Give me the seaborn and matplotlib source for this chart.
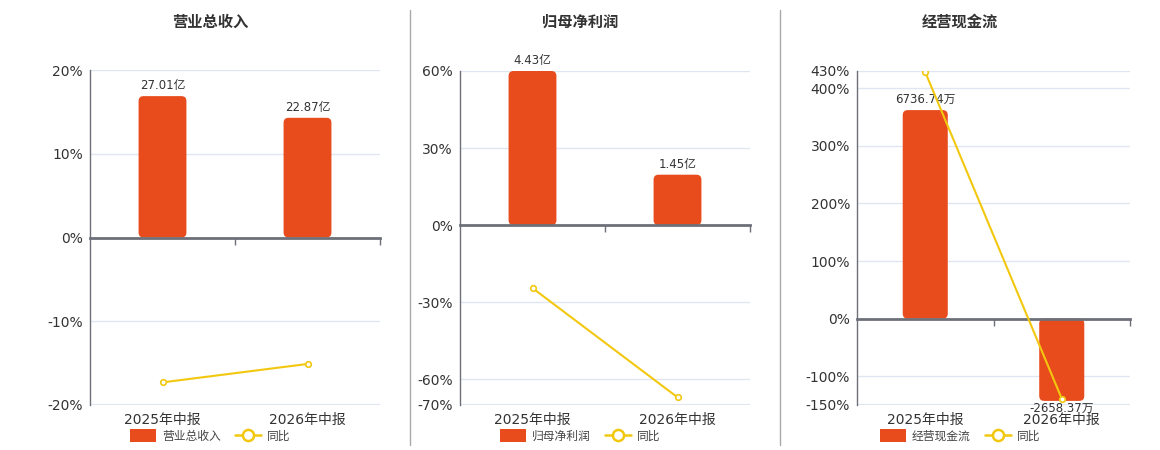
'''
Three small bar + YoY line charts (revenue, net profit, operating cash flow).

Saves the figure to out.png.
'''
import matplotlib
matplotlib.use('agg')

import matplotlib.pyplot as plt
from matplotlib.patches import FancyBboxPatch, Patch
from matplotlib.lines import Line2D

import seaborn as sns

# Data
periods = ['2025年中报', '2026年中报']

revenue = [27.01, 22.87]          # 亿
revenue_yoy = [-17.3, -15.1]      # %
profit = [4.43, 1.45]             # 亿
profit_yoy = [-24.5, -67.0]       # %
cashflow = [6736.74, -2658.37]    # 万
cashflow_yoy = [428.0, -139.0]    # %

titles = ['营业总收入', '归母净利润', '经营现金流']
units = ['亿', '亿', '万']
yticks = [
    [-20, -10, 0, 10, 20],
    [-70, -60, -30, 0, 30, 60],
    [-150, -100, 0, 100, 200, 300, 400, 430],
]
bar_max = [32, 4.43, 8000]

BAR = '#E84B1C'
LINE = '#F2C80F'
GRID = '#E0E6F1'
AXIS = '#6E7079'
TEXT = '#333333'

sns.set_style('white')
plt.rcParams['font.family'] = ['DejaVu Sans', 'Noto Sans CJK SC']

W, H = 1160, 450
fig = plt.figure(figsize=(W / 100, H / 100), dpi=100)

# pixel boxes of the plot areas: left, right, top, bottom
boxes = [(90, 380, 70, 405), (460, 750, 71, 405), (857, 1130, 71, 405)]
centers = [210, 580, 960]

bars_all = [revenue, profit, cashflow]
yoy_all = [revenue_yoy, profit_yoy, cashflow_yoy]


def round_bars(ax, radius_px, width_px, height_px):
    x0, x1 = ax.get_xlim()
    y0, y1 = ax.get_ylim()
    xu = (x1 - x0) / width_px
    yu = (y1 - y0) / height_px
    for p in list(ax.patches):
        x, w = p.get_x(), p.get_width()
        ylo = min(p.get_y(), p.get_y() + p.get_height())
        h = abs(p.get_height())
        rb = FancyBboxPatch((x, ylo), w, h,
                            boxstyle=f'round,pad=0,rounding_size={radius_px * xu}',
                            mutation_aspect=yu / xu,
                            facecolor=p.get_facecolor(), edgecolor='none', zorder=2)
        p.remove()
        ax.add_patch(rb)


for i in range(3):
    L, R, T, B = boxes[i]
    pos = [L / W, 1 - B / H, (R - L) / W, (B - T) / H]
    lo, hi = yticks[i][0], yticks[i][-1]

    # grid / tick axis
    ax = fig.add_axes(pos)
    ax.set_xlim(-0.5, 1.5)
    ax.set_ylim(lo, hi)
    ax.set_yticks(yticks[i])
    ax.set_yticklabels([f'{t}%' for t in yticks[i]])
    ax.set_xticks([0, 1])
    ax.set_xticklabels(periods)
    ax.tick_params(axis='both', length=0, labelsize=10, colors=TEXT)
    ax.tick_params(axis='y', pad=5)
    ax.tick_params(axis='x', pad=6)
    ax.grid(axis='y', color=GRID, linewidth=1)
    for s in ['top', 'right', 'bottom']:
        ax.spines[s].set_visible(False)
    ax.spines['left'].set_color(AXIS)
    ax.spines['left'].set_linewidth(1)
    ax.axhline(lo, color=GRID, linewidth=1.5, zorder=0)

    # bars on their own scale, zero aligned with the percent axis
    axb = fig.add_axes(pos)
    axb.patch.set_visible(False)
    sns.barplot(x=periods, y=bars_all[i], ax=axb, color=BAR, width=0.33,
                saturation=1)
    bmax = bar_max[i]
    axb.set_ylim(bmax * lo / hi, bmax)
    axb.set_xlim(-0.5, 1.5)
    axb.set_yticks([])
    axb.set_ylabel('')
    for s in ['top', 'right', 'left']:
        axb.spines[s].set_visible(False)
    axb.spines['bottom'].set_position(('data', 0))
    axb.spines['bottom'].set_color(AXIS)
    axb.spines['bottom'].set_linewidth(2)
    axb.spines['bottom'].set_zorder(3)
    axb.set_xticks([0.5, 1.5])
    axb.set_xticklabels(['', ''])
    axb.tick_params(axis='x', bottom=True, length=5, width=1, color=AXIS,
                    direction='out')
    round_bars(axb, 5, R - L, B - T)

    for j, v in enumerate(bars_all[i]):
        label = f'{v:.2f}{units[i]}'
        if v >= 0:
            axb.annotate(label, (j, v), xytext=(0, 3), textcoords='offset points',
                         ha='center', va='bottom', fontsize=8.5, color=TEXT)
        else:
            axb.annotate(label, (j, v), xytext=(0, -1), textcoords='offset points',
                         ha='center', va='top', fontsize=8.5, color=TEXT)

    # yoy line on top
    axl = fig.add_axes(pos)
    axl.patch.set_visible(False)
    sns.pointplot(x=periods, y=yoy_all[i], ax=axl, color=LINE, errorbar=None,
                  markers='o', markersize=4, linewidth=1.5,
                  markerfacecolor='white', markeredgecolor=LINE,
                  markeredgewidth=1.2)
    axl.set_xlim(-0.5, 1.5)
    axl.set_ylim(lo, hi)
    axl.set_axis_off()

    fig.text(centers[i] / W, 1 - 22 / H, titles[i], ha='center', va='center',
             fontsize=11, fontweight='bold', color=TEXT)

    handles = [
        Patch(facecolor=BAR, edgecolor='none'),
        Line2D([0], [0], color=LINE, linewidth=1.8, marker='o', markersize=8,
               markerfacecolor='white', markeredgecolor=LINE, markeredgewidth=1.8),
    ]
    fig.legend(handles, [titles[i], '同比'], loc='center',
               bbox_to_anchor=(centers[i] / W, 1 - 436 / H), ncol=2,
               frameon=False, fontsize=8.5, handlelength=2.2, handleheight=1.3,
               columnspacing=1.2, handletextpad=0.5, labelcolor='#444444')

# separators between panels
for x in [410, 780]:
    fig.add_artist(Line2D([x / W, x / W], [1 - 10 / H, 1 - 445 / H],
                          color='#AAAAAA', linewidth=1, transform=fig.transFigure))

fig.savefig('out.png', dpi=100)
plt.close()
